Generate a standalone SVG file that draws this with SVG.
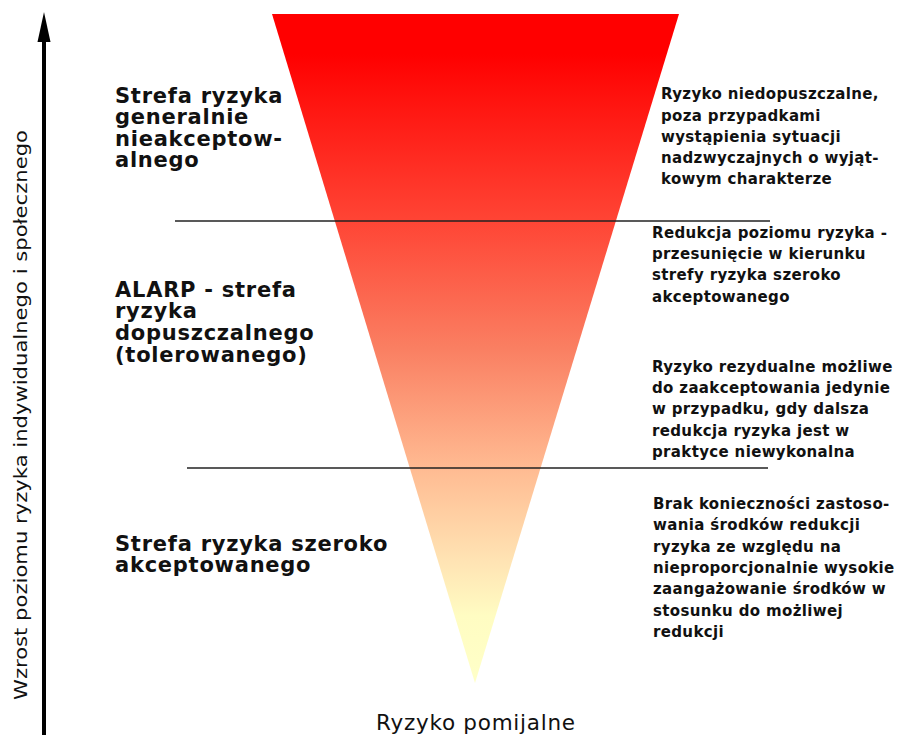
<svg xmlns="http://www.w3.org/2000/svg" width="911" height="735" viewBox="0 0 911 735">
<style>
.h{font-family:"DejaVu Sans",Verdana,sans-serif;font-weight:bold;font-size:21px;letter-spacing:0.75px;fill:#111}
.d{font-family:"DejaVu Sans",Verdana,sans-serif;font-weight:bold;font-size:15px;letter-spacing:0.35px;fill:#111}
.r{font-family:"DejaVu Sans",Verdana,sans-serif;font-size:18px;fill:#111}
.sep{stroke:#222;stroke-width:1.5}
</style>
<defs>
<linearGradient id="g" x1="0" y1="14" x2="0" y2="683" gradientUnits="userSpaceOnUse">
<stop offset="0" stop-color="#ff0000"/>
<stop offset="0.06" stop-color="#ff0000"/>
<stop offset="0.31" stop-color="#ff4535"/>
<stop offset="0.5" stop-color="#fa7f62"/>
<stop offset="0.68" stop-color="#ffbb92"/>
<stop offset="0.82" stop-color="#ffe4b4"/>
<stop offset="0.9" stop-color="#fffcc2"/>
<stop offset="1" stop-color="#ffffc8"/>
</linearGradient>
</defs>
<rect width="911" height="735" fill="#fff"/>
<g id="triangle"><polygon points="272,14 679,14 475,683" fill="url(#g)"/></g>
<g id="connectors">
<line class="sep" x1="175" y1="221" x2="770" y2="221"/>
<line class="sep" x1="187" y1="468" x2="768" y2="468"/>
<line x1="44" y1="735" x2="44" y2="38" stroke="#000" stroke-width="4"/>
<polygon points="44,12 37.5,42 50.5,42" fill="#000"/>
</g>
<g id="axis-label"><text class="r" transform="translate(27,415) rotate(-90)" text-anchor="middle" textLength="570" lengthAdjust="spacingAndGlyphs">Wzrost poziomu ryzyka indywidualnego i społecznego</text></g>
<g id="zone1">
<text class="h" x="115" y="103">Strefa ryzyka<tspan x="115" dy="21">generalnie</tspan><tspan x="115" dy="22">nieakceptow-</tspan><tspan x="115" dy="21">alnego</tspan></text>
</g>
<g id="zone2">
<text class="h" x="115" y="297">ALARP - strefa<tspan x="115" dy="21">ryzyka</tspan><tspan x="115" dy="22">dopuszczalnego</tspan><tspan x="115" dy="22">(tolerowanego)</tspan></text>
</g>
<g id="zone3">
<text class="h" x="115" y="551">Strefa ryzyka szeroko<tspan x="115" dy="21">akceptowanego</tspan></text>
</g>
<g id="desc1">
<text class="d" x="661" y="99">Ryzyko niedopuszczalne,<tspan x="661" dy="22">poza przypadkami</tspan><tspan x="661" dy="21">wystąpienia sytuacji</tspan><tspan x="661" dy="21">nadzwyczajnych o wyjąt-</tspan><tspan x="661" dy="21">kowym charakterze</tspan></text>
</g>
<g id="desc2">
<text class="d" x="652" y="238">Redukcja poziomu ryzyka -<tspan x="652" dy="21">przesunięcie w kierunku</tspan><tspan x="652" dy="21">strefy ryzyka szeroko</tspan><tspan x="652" dy="22">akceptowanego</tspan></text>
</g>
<g id="desc3">
<text class="d" x="652" y="372">Ryzyko rezydualne możliwe<tspan x="652" dy="21">do zaakceptowania jedynie</tspan><tspan x="652" dy="21">w przypadku, gdy dalsza</tspan><tspan x="652" dy="22">redukcja ryzyka jest w</tspan><tspan x="652" dy="21">praktyce niewykonalna</tspan></text>
</g>
<g id="desc4">
<text class="d" x="653" y="509">Brak konieczności zastoso-<tspan x="653" dy="21">wania środków redukcji</tspan><tspan x="653" dy="22">ryzyka ze względu na</tspan><tspan x="653" dy="21">nieproporcjonalnie wysokie</tspan><tspan x="653" dy="21">zaangażowanie środków w</tspan><tspan x="653" dy="22">stosunku do możliwej</tspan><tspan x="653" dy="21">redukcji</tspan></text>
</g>
<g id="bottom"><text class="r" x="376" y="730" textLength="199" lengthAdjust="spacing" style="font-size:21.5px">Ryzyko pomijalne</text></g>
</svg>
